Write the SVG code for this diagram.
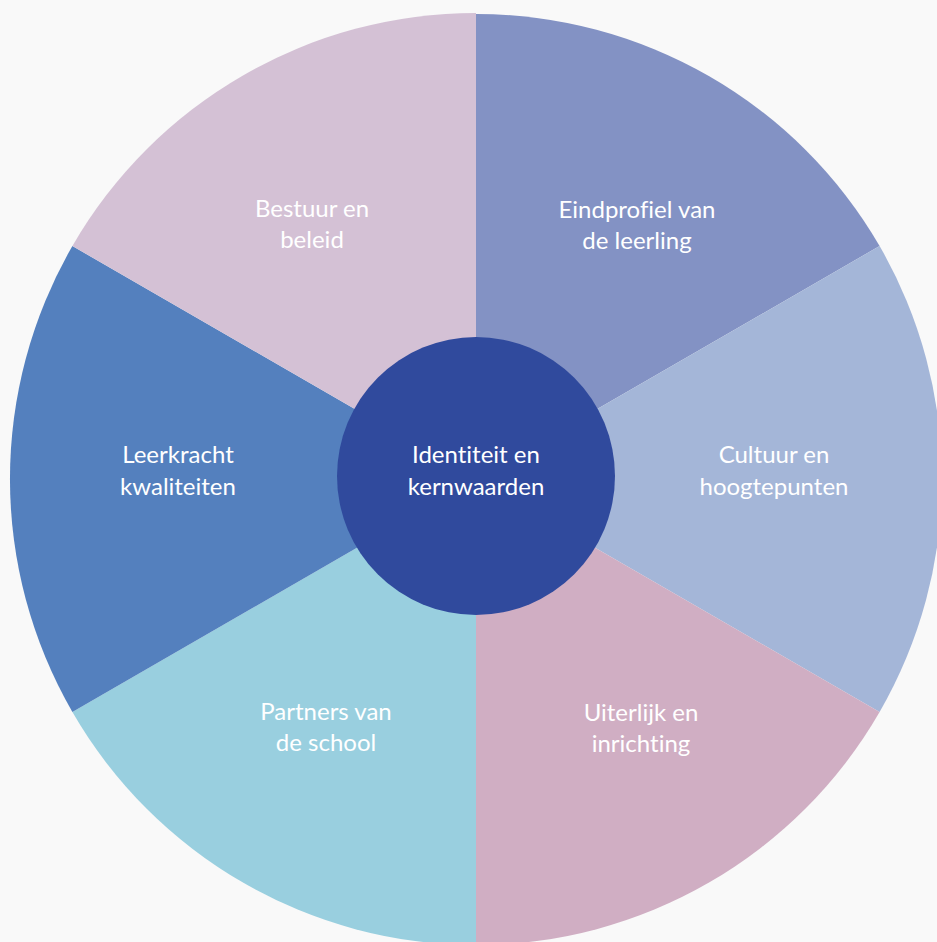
<svg xmlns="http://www.w3.org/2000/svg" width="937" height="942" viewBox="0 0 937 942">
<style>
.lbl{font-family:Lato,"Open Sans","Liberation Sans",sans-serif;font-size:24px;fill:#ffffff;text-anchor:middle;font-variant-ligatures:none}
</style>
<rect x="0" y="0" width="937" height="942" fill="#f9f9f9"/>
<g id="sectors">
<g id="eindprofiel"><path d="M476,479 L476,14 A466,466 0 0 1 879.6,246 Z" fill="#8392c4"/>
<text class="lbl" x="637" y="218">Eindprofiel van</text><text class="lbl" x="637" y="249">de leerling</text></g>
<g id="cultuur"><path d="M476,479 L879.6,246 A466,466 0 0 1 879.6,712 Z" fill="#a4b6d8"/>
<text class="lbl" x="774" y="463">Cultuur en</text><text class="lbl" x="774" y="495">hoogtepunten</text></g>
<g id="uiterlijk"><path d="M476,479 L879.6,712 A466,466 0 0 1 476,945 Z" fill="#d0aec3"/>
<text class="lbl" x="641" y="721">Uiterlijk en</text><text class="lbl" x="641" y="752">inrichting</text></g>
<g id="partners"><path d="M476,479 L476,945 A466,466 0 0 1 72.4,712 Z" fill="#99cfdf"/>
<text class="lbl" x="326" y="720">Partners van</text><text class="lbl" x="326" y="751">de school</text></g>
<g id="leerkracht"><path d="M476,479 L72.4,712 A466,466 0 0 1 72.4,246 Z" fill="#5480be"/>
<text class="lbl" x="178" y="463">Leerkracht</text><text class="lbl" x="178" y="495">kwaliteiten</text></g>
<g id="bestuur"><path d="M476,479 L72.4,246 A466,466 0 0 1 476,13 Z" fill="#d4c1d5"/>
<text class="lbl" x="312" y="217">Bestuur en</text><text class="lbl" x="312" y="248">beleid</text></g>
</g>
<g id="connectors"></g>
<g id="center">
<circle cx="476" cy="476" r="139" fill="#304a9d"/>
<text class="lbl" x="476" y="463">Identiteit en</text><text class="lbl" x="476" y="495">kernwaarden</text>
</g>
</svg>
